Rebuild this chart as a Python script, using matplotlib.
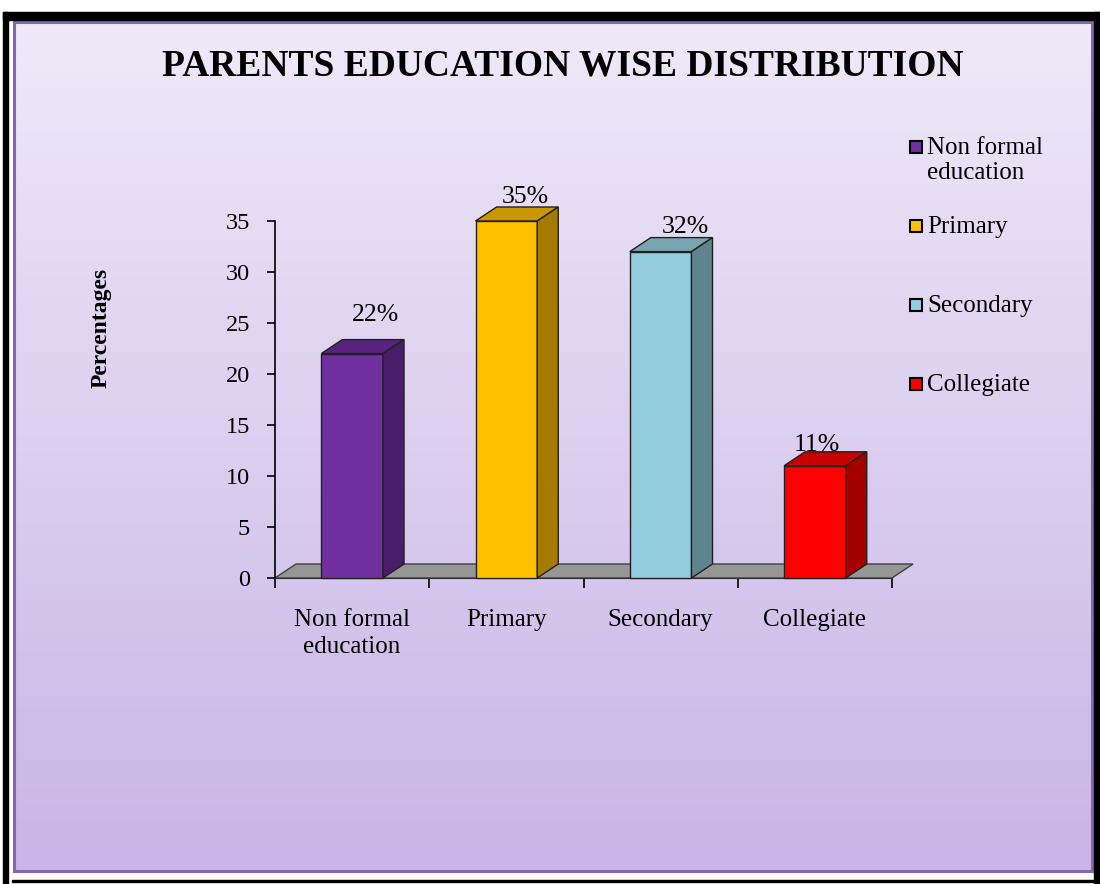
import numpy as np
import matplotlib
matplotlib.use("Agg")
import matplotlib.pyplot as plt
from matplotlib.patches import Rectangle, Polygon

plt.rcParams['font.family'] = ['Liberation Serif', 'DejaVu Serif']

# data
categories = ["Non formal\neducation", "Primary", "Secondary", "Collegiate"]
legend_names = ["Non formal\neducation", "Primary", "Secondary", "Collegiate"]
values = [22, 35, 32, 11]
value_labels = ["22%", "35%", "32%", "11%"]

front_colors = ["#7030A0", "#FFC000", "#93CDDD", "#FF0000"]
top_colors = ["#58237F", "#C99700", "#78A5B1", "#C80000"]
side_colors = ["#4A1D6B", "#A47B00", "#5E848E", "#A50000"]

# label offsets (x in categories, y in data units), like excel put them
lab_dx = [0.15, 0.12, 0.16, 0.01]
lab_dy = [2.45, 1.0, 1.0, 0.7]

W, H = 1100, 884
fig = plt.figure(figsize=(W / 100, H / 100), dpi=100)
fig.patch.set_facecolor("white")


def fx(x):
    return x / W


def fy(y):
    return 1 - y / H


# gradient panel
bg = fig.add_axes([fx(14), fy(871), fx(1092) - fx(14), fy(22) - fy(871)])
grad = np.linspace(0, 1, 256).reshape(-1, 1)
top_c = np.array([0xEF, 0xE9, 0xF8]) / 255
bot_c = np.array([0xC8, 0xB4, 0xE6]) / 255
img = top_c[None, None, :] * (1 - grad[:, :, None]) + bot_c[None, None, :] * grad[:, :, None]
bg.imshow(img, aspect="auto", extent=[0, 1, 0, 1])
bg.set_xticks([])
bg.set_yticks([])
for s in bg.spines.values():
    s.set_color("#8467B0")
    s.set_linewidth(2.2)

# outer black frame
fig.patches.append(Rectangle((fx(3), fy(20)), fx(1100) - fx(3), fy(12) - fy(20),
                             transform=fig.transFigure, color="black"))
fig.patches.append(Rectangle((fx(3), 0), fx(8) - fx(3), fy(12),
                             transform=fig.transFigure, color="black"))
fig.patches.append(Rectangle((fx(1094), 0), fx(1100) - fx(1094), fy(12),
                             transform=fig.transFigure, color="black"))
fig.patches.append(Rectangle((fx(12), fy(882)), fx(1100) - fx(12), fy(880) - fy(882),
                             transform=fig.transFigure, color="black"))

# main axes
ax = fig.add_axes([fx(275), fy(578), fx(892) - fx(275), fy(221) - fy(578)])
ax.set_facecolor("none")
n = len(values)
ax.set_xlim(0, n)
ax.set_ylim(0, 35)

dx = 21 / 154
dy = 14 / 10.2
w = 0.2

# floor
floor = Polygon([(0, 0), (n, 0), (n + dx, dy), (dx, dy)], closed=True,
                facecolor="#969696", edgecolor="#404040", lw=1, clip_on=False, zorder=1)
ax.add_patch(floor)

for i, v in enumerate(values):
    c = i + 0.5
    ax.bar(c, v, width=2 * w, color=front_colors[i], edgecolor="#202020", lw=1,
           zorder=3, clip_on=False)
    top = Polygon([(c - w, v), (c + w, v), (c + w + dx, v + dy), (c - w + dx, v + dy)],
                  closed=True, facecolor=top_colors[i], edgecolor="#202020", lw=1,
                  clip_on=False, zorder=3)
    side = Polygon([(c + w, 0), (c + w + dx, dy), (c + w + dx, v + dy), (c + w, v)],
                   closed=True, facecolor=side_colors[i], edgecolor="#202020", lw=1,
                   clip_on=False, zorder=3)
    ax.add_patch(top)
    ax.add_patch(side)
    ax.text(c + lab_dx[i], v + dy + lab_dy[i], value_labels[i], ha="center", va="center",
            fontsize=18.5, zorder=4)

for s in ["top", "right"]:
    ax.spines[s].set_visible(False)
ax.spines["left"].set_color("black")
ax.spines["bottom"].set_color("#303030")
ax.spines["left"].set_linewidth(1.2)

ax.set_yticks(range(0, 36, 5))
ax.tick_params(axis="y", direction="out", length=6, width=1.2, labelsize=17.5, pad=12)
ax.set_xticks(range(n + 1))
ax.set_xticklabels([])
ax.tick_params(axis="x", which="major", direction="out", length=7, width=1.2)
ax.set_xticks([i + 0.5 for i in range(n)], minor=True)
ax.set_xticklabels(categories, minor=True, fontsize=18, linespacing=1.3)
ax.tick_params(axis="x", which="minor", length=0, pad=22)

fig.text(fx(101), fy(328), "Percentages", rotation=90, ha="center", va="center",
         fontsize=17, fontweight="bold")

fig.text(fx(563), fy(66), "PARENTS EDUCATION WISE DISTRIBUTION", ha="center", va="center",
         fontsize=27, fontweight="bold")

# legend
leg_y = [147, 226, 305, 384]
for i, name in enumerate(legend_names):
    yy = leg_y[i]
    fig.patches.append(Rectangle((fx(910), fy(yy + 6)), fx(12), fy(0) - fy(12),
                                 transform=fig.transFigure, facecolor=front_colors[i],
                                 edgecolor="black", lw=1.5))
    fig.text(fx(927), fy(yy - 10), name, ha="left", va="top", fontsize=18, linespacing=1.2)

fig.savefig("out.png", dpi=100)
